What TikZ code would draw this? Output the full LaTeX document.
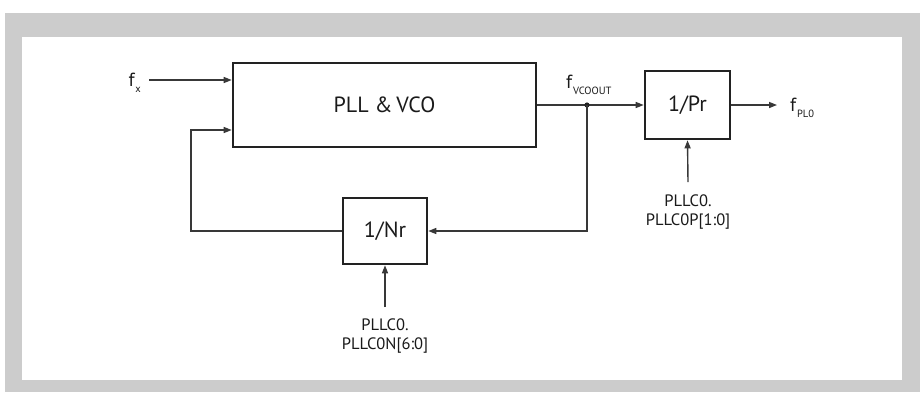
\documentclass[tikz,border=0pt]{standalone}
\usepackage{fontspec}
\setmainfont{PT Sans}
\usepackage{xcolor}
\usepackage{tikz}
\usetikzlibrary{arrows.meta, positioning, calc}
\definecolor{pframe}{HTML}{CCCCCC}
\definecolor{pline}{HTML}{222222}
\definecolor{ptext}{HTML}{1A1A1A}
\newcommand{\fsig}[1]{f\kern0.8pt\raisebox{-6pt}{\fontsize{10.5}{10.5}\selectfont #1}}

\begin{document}
\begin{tikzpicture}[x=1pt, y=-1pt,
  blk/.style={draw=pline, line width=2.6pt, inner sep=0pt, text=ptext, font=\fontsize{22}{26}\selectfont},
  sig/.style={draw=pline!90, line width=1.4pt, -{Triangle[length=8pt, width=6pt]}},
  lbl/.style={font=\fontsize{16.5}{19}\selectfont, text=ptext, inner sep=0pt, align=center},
  sname/.style={font=\fontsize{19}{22}\selectfont, text=ptext, inner sep=0pt}]
\fill[pframe] (5,13) rectangle (920,392);
\fill[white] (22,37) rectangle (902,380);
\useasboundingbox (0,0) rectangle (920,392);
\node[blk, minimum width=303pt, minimum height=84pt] (pll) at (384.5,105) {PLL \&\kern-2pt{} VCO};
\node[blk, minimum width=84pt, minimum height=66pt] (nr) at (385,231) {1/Nr};
\node[blk, minimum width=85pt, minimum height=68pt] (pr) at (687.5,105) {1/Pr};
\coordinate (fxin) at (149,80);
\coordinate (jn) at (587,105);
\coordinate (fbk) at (191,231);
\coordinate (pllfb) at ($(pll.west)+(0,25)$);
\coordinate (fout) at (777,105);
\node[sname, anchor=base east] (fx) at (141,86) {\fsig{x}};
\node[sname, anchor=base west] (fvco) at (566,88) {\fsig{VCOOUT}};
\node[sname, anchor=base west] (fpl) at (790,111) {\fsig{PL0}};
\node[lbl, anchor=north] (nrlbl) at (385,319) {PLLC0.\\PLLC0N[6:0]};
\node[lbl, anchor=north] (prlbl) at (688,195) {PLLC0.\\PLLC0P[1:0]};
\draw[sig] (fxin) -- (fxin -| pll.west);
\draw[sig] (pll.east) -- (pr.west);
\fill[pline] (jn) circle (2.6pt);
\draw[sig] (jn) |- (nr.east);
\draw[sig] (nr.west) -- (fbk) |- (pllfb);
\draw[sig] (pr.east) -- (fout);
\draw[sig] ([yshift=12pt]nrlbl.north) -- (nr.south);
\draw[sig] ([yshift=13pt]prlbl.north) -- (pr.south);
\end{tikzpicture}
\end{document}
